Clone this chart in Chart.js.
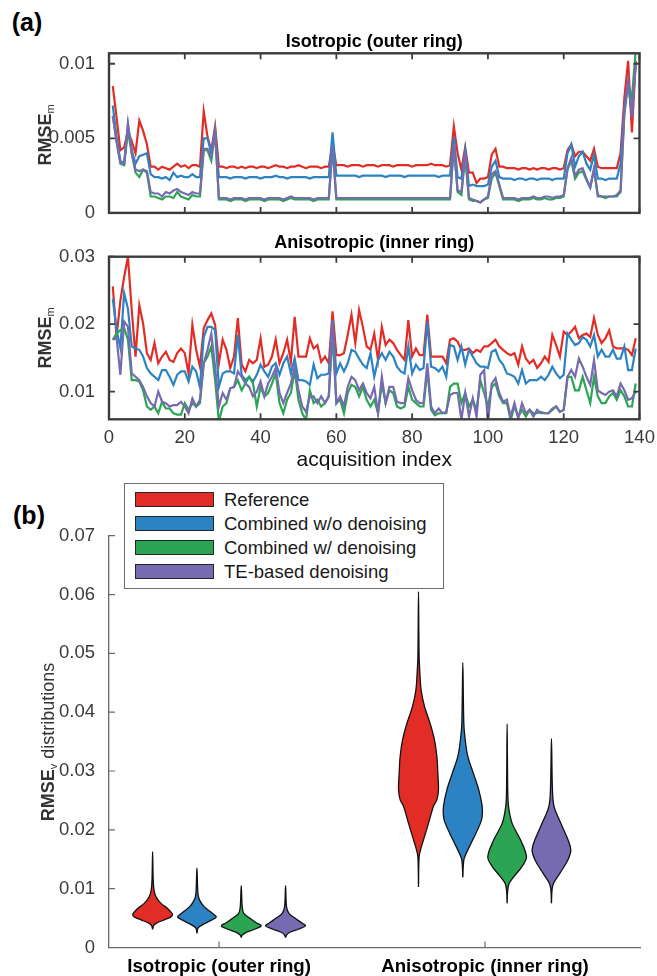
<!DOCTYPE html>
<html>
<head>
<meta charset="utf-8">
<script src="https://cdn.jsdelivr.net/npm/chart.js@4.4.1/dist/chart.umd.min.js"></script>
<style>
  html, body { margin: 0; padding: 0; background: #fff; }
  body { width: 657px; height: 976px; position: relative; overflow: hidden;
         font-family: "Liberation Sans", Arial, Helvetica, sans-serif; }
  canvas { position: absolute; left: 0; }
  .panel { position: absolute; font-weight: bold; font-size: 25px; color: #000;
           transform: translate(-50%, -50%); line-height: 1; }
  .ylab { position: absolute; transform: translate(-50%, -50%) rotate(-90deg);
          white-space: nowrap; font-size: 18px; color: #333; line-height: 1; }
  .ylab sub { font-size: 11px; vertical-align: -3px; }
  #legend { position: absolute; left: 124px; top: 483px; width: 318px; height: 104px;
            border: 1.5px solid #6e6e6e; background: #fff; z-index: 5; }
  .row { position: absolute; left: 10px; height: 16px; }
  .sw { position: absolute; left: 0; top: 0; width: 77px; height: 13px; border: 1.5px solid #262626; }
  .lt { position: absolute; left: 89px; top: -3px; font-size: 18.5px; color: #1a1a1a; white-space: nowrap; line-height: 22px; }
</style>
</head>
<body>
<div class="panel" style="left:27px; top:22px;">(a)</div>
<div class="panel" style="left:29px; top:515px;">(b)</div>
<canvas id="cA" width="657" height="230" style="top:0px;"></canvas>
<canvas id="cB" width="657" height="250" style="top:230px;"></canvas>
<canvas id="cC" width="657" height="506" style="top:470px;"></canvas>
<div class="ylab" style="left:46px; top:135px;"><b>RMSE</b><sub>m</sub></div>
<div class="ylab" style="left:46px; top:338px;"><b>RMSE</b><sub>m</sub></div>
<div class="ylab" style="left:49px; top:742px;"><b>RMSE</b><sub>v</sub> distributions</div>
<div id="legend"></div>
<script>
// ---------------- data ----------------
const methods = ['Reference', 'Combined w/o denoising', 'Combined w/ denoising', 'TE-based denoising'];
const colors = ['#E22D27', '#2C83C4', '#2BA453', '#766AB0'];
const groups = ['Isotropic (outer ring)', 'Anisotropic (inner ring)'];
const acqTicks = [0, 20, 40, 60, 80, 100, 120, 140];
const isoTicks = [0, 0.005, 0.01];
const anisoTicks = [0.01, 0.02, 0.03];
const violinTicks = [0, 0.01, 0.02, 0.03, 0.04, 0.05, 0.06, 0.07];

// Isotropic (outer ring), RMSE_m per acquisition index 1..139
const isoRef = [
 0.0085,0.0064,0.0042,0.0044,0.0055,0.0048,0.0040,0.0062,0.0055,0.0046,
 0.0031,0.0031,0.0029,0.0031,0.0030,0.0029,0.0031,0.0033,0.0031,0.0032,
 0.0030,0.0032,0.0032,0.0031,0.0068,0.0051,0.0042,0.0058,0.0031,0.0031,
 0.0030,0.0031,0.0031,0.0030,0.0031,0.0030,0.0031,0.0031,0.0030,0.0031,
 0.0031,0.0030,0.0031,0.0032,0.0031,0.0031,0.0030,0.0031,0.0031,0.0032,
 0.0031,0.0030,0.0031,0.0031,0.0031,0.0030,0.0031,0.0031,0.0046,0.0032,
 0.0032,0.0032,0.0031,0.0032,0.0032,0.0032,0.0031,0.0032,0.0032,0.0032,
 0.0031,0.0032,0.0032,0.0032,0.0031,0.0032,0.0032,0.0032,0.0032,0.0031,
 0.0032,0.0032,0.0032,0.0032,0.0033,0.0032,0.0032,0.0032,0.0031,0.0032,
 0.0058,0.0040,0.0029,0.0044,0.0027,0.0027,0.0020,0.0023,0.0023,0.0024,
 0.0039,0.0043,0.0031,0.0031,0.0030,0.0030,0.0030,0.0029,0.0030,0.0030,
 0.0029,0.0030,0.0029,0.0030,0.0030,0.0029,0.0030,0.0030,0.0029,0.0030,
 0.0042,0.0046,0.0038,0.0041,0.0041,0.0038,0.0035,0.0043,0.0031,0.0030,
 0.0030,0.0030,0.0030,0.0030,0.0040,0.0077,0.0102,0.0054,0.0102];
const isoNoDen = [
 0.0072,0.0051,0.0035,0.0033,0.0059,0.0042,0.0033,0.0038,0.0039,0.0040,
 0.0026,0.0024,0.0024,0.0023,0.0024,0.0022,0.0027,0.0024,0.0025,0.0024,
 0.0024,0.0026,0.0024,0.0024,0.0050,0.0050,0.0040,0.0055,0.0024,0.0024,
 0.0024,0.0023,0.0024,0.0024,0.0024,0.0023,0.0024,0.0024,0.0024,0.0023,
 0.0024,0.0024,0.0024,0.0025,0.0024,0.0024,0.0023,0.0024,0.0024,0.0024,
 0.0024,0.0024,0.0023,0.0024,0.0024,0.0024,0.0024,0.0024,0.0054,0.0025,
 0.0025,0.0025,0.0025,0.0025,0.0025,0.0024,0.0025,0.0025,0.0025,0.0025,
 0.0025,0.0025,0.0024,0.0025,0.0025,0.0025,0.0025,0.0024,0.0025,0.0025,
 0.0025,0.0025,0.0025,0.0025,0.0025,0.0025,0.0024,0.0025,0.0025,0.0025,
 0.0051,0.0024,0.0023,0.0042,0.0018,0.0019,0.0018,0.0018,0.0018,0.0019,
 0.0031,0.0035,0.0024,0.0023,0.0023,0.0023,0.0022,0.0023,0.0023,0.0022,
 0.0023,0.0023,0.0022,0.0023,0.0023,0.0023,0.0022,0.0023,0.0023,0.0023,
 0.0040,0.0046,0.0031,0.0038,0.0041,0.0033,0.0029,0.0039,0.0023,0.0023,
 0.0022,0.0023,0.0023,0.0023,0.0033,0.0070,0.0088,0.0066,0.0099];
const isoDen = [
 0.0065,0.0048,0.0033,0.0032,0.0055,0.0040,0.0027,0.0024,0.0029,0.0027,
 0.0011,0.0011,0.0010,0.0009,0.0011,0.0011,0.0010,0.0014,0.0011,0.0010,
 0.0009,0.0012,0.0011,0.0011,0.0042,0.0042,0.0035,0.0054,0.0009,0.0009,
 0.0009,0.0008,0.0009,0.0009,0.0009,0.0008,0.0009,0.0009,0.0009,0.0009,
 0.0008,0.0009,0.0009,0.0009,0.0009,0.0008,0.0009,0.0010,0.0009,0.0009,
 0.0009,0.0009,0.0009,0.0008,0.0009,0.0009,0.0009,0.0009,0.0044,0.0009,
 0.0009,0.0009,0.0009,0.0009,0.0009,0.0009,0.0009,0.0009,0.0009,0.0009,
 0.0009,0.0009,0.0009,0.0009,0.0009,0.0009,0.0009,0.0009,0.0009,0.0009,
 0.0009,0.0009,0.0009,0.0009,0.0009,0.0009,0.0009,0.0009,0.0009,0.0009,
 0.0045,0.0014,0.0012,0.0038,0.0009,0.0008,0.0008,0.0007,0.0009,0.0010,
 0.0023,0.0027,0.0018,0.0009,0.0009,0.0009,0.0009,0.0008,0.0009,0.0009,
 0.0009,0.0010,0.0009,0.0009,0.0010,0.0009,0.0009,0.0010,0.0010,0.0011,
 0.0029,0.0035,0.0023,0.0027,0.0028,0.0022,0.0017,0.0029,0.0012,0.0011,
 0.0010,0.0011,0.0011,0.0011,0.0014,0.0066,0.0086,0.0077,0.0109];
const isoTE = [
 0.0065,0.0048,0.0034,0.0033,0.0060,0.0040,0.0029,0.0028,0.0029,0.0028,
 0.0014,0.0013,0.0013,0.0011,0.0014,0.0013,0.0015,0.0016,0.0014,0.0013,
 0.0012,0.0014,0.0013,0.0013,0.0043,0.0043,0.0038,0.0055,0.0010,0.0010,
 0.0010,0.0009,0.0010,0.0010,0.0010,0.0009,0.0010,0.0010,0.0010,0.0010,
 0.0009,0.0010,0.0010,0.0010,0.0010,0.0009,0.0010,0.0011,0.0010,0.0010,
 0.0010,0.0010,0.0010,0.0009,0.0010,0.0010,0.0010,0.0010,0.0045,0.0010,
 0.0010,0.0010,0.0010,0.0010,0.0010,0.0010,0.0010,0.0010,0.0010,0.0010,
 0.0010,0.0010,0.0010,0.0010,0.0010,0.0010,0.0010,0.0010,0.0010,0.0010,
 0.0010,0.0010,0.0010,0.0010,0.0010,0.0010,0.0010,0.0010,0.0010,0.0010,
 0.0046,0.0015,0.0014,0.0040,0.0010,0.0009,0.0008,0.0007,0.0009,0.0011,
 0.0026,0.0028,0.0019,0.0010,0.0010,0.0010,0.0010,0.0009,0.0010,0.0010,
 0.0010,0.0011,0.0010,0.0010,0.0011,0.0011,0.0010,0.0011,0.0011,0.0012,
 0.0030,0.0037,0.0025,0.0029,0.0030,0.0023,0.0017,0.0030,0.0011,0.0011,
 0.0011,0.0011,0.0011,0.0012,0.0015,0.0068,0.0088,0.0064,0.0101];

// Anisotropic (inner ring), RMSE_m per acquisition index 1..139
const anisoRef = [
 0.0256,0.0181,0.0235,0.0270,0.0300,0.0221,0.0152,0.0228,0.0201,0.0157,
 0.0147,0.0172,0.0142,0.0152,0.0159,0.0147,0.0144,0.0157,0.0164,0.0157,
 0.0127,0.0199,0.0162,0.0137,0.0194,0.0206,0.0216,0.0199,0.0142,0.0177,
 0.0162,0.0135,0.0152,0.0209,0.0140,0.0130,0.0147,0.0142,0.0147,0.0179,
 0.0137,0.0140,0.0152,0.0177,0.0142,0.0157,0.0177,0.0144,0.0211,0.0152,
 0.0152,0.0152,0.0179,0.0164,0.0169,0.0144,0.0152,0.0142,0.0219,0.0154,
 0.0154,0.0157,0.0184,0.0214,0.0172,0.0221,0.0196,0.0167,0.0162,0.0186,
 0.0147,0.0196,0.0169,0.0177,0.0172,0.0162,0.0154,0.0147,0.0206,0.0152,
 0.0164,0.0154,0.0154,0.0214,0.0152,0.0152,0.0152,0.0152,0.0142,0.0177,
 0.0179,0.0174,0.0162,0.0162,0.0164,0.0157,0.0162,0.0159,0.0167,0.0167,
 0.0172,0.0177,0.0167,0.0162,0.0157,0.0154,0.0157,0.0140,0.0167,0.0149,
 0.0142,0.0147,0.0135,0.0142,0.0152,0.0144,0.0184,0.0169,0.0152,0.0189,
 0.0184,0.0189,0.0196,0.0179,0.0184,0.0186,0.0181,0.0209,0.0184,0.0172,
 0.0179,0.0191,0.0167,0.0164,0.0164,0.0164,0.0162,0.0154,0.0179];
const anisoNoDen = [
 0.0238,0.0191,0.0165,0.0246,0.0223,0.0167,0.0164,0.0162,0.0152,0.0135,
 0.0127,0.0122,0.0117,0.0132,0.0132,0.0122,0.0110,0.0125,0.0130,0.0130,
 0.0115,0.0137,0.0130,0.0107,0.0181,0.0196,0.0196,0.0191,0.0107,0.0127,
 0.0130,0.0130,0.0127,0.0184,0.0125,0.0117,0.0122,0.0115,0.0125,0.0140,
 0.0130,0.0122,0.0137,0.0142,0.0125,0.0142,0.0152,0.0127,0.0149,0.0117,
 0.0117,0.0115,0.0110,0.0140,0.0120,0.0125,0.0125,0.0127,0.0206,0.0127,
 0.0142,0.0130,0.0142,0.0162,0.0159,0.0149,0.0140,0.0135,0.0157,0.0122,
 0.0147,0.0157,0.0147,0.0159,0.0152,0.0137,0.0130,0.0127,0.0167,0.0127,
 0.0140,0.0132,0.0135,0.0204,0.0137,0.0135,0.0130,0.0137,0.0122,0.0169,
 0.0167,0.0147,0.0167,0.0140,0.0162,0.0152,0.0142,0.0137,0.0137,0.0135,
 0.0159,0.0162,0.0147,0.0140,0.0127,0.0125,0.0122,0.0112,0.0132,0.0112,
 0.0117,0.0117,0.0117,0.0122,0.0117,0.0125,0.0137,0.0127,0.0120,0.0125,
 0.0186,0.0177,0.0169,0.0172,0.0181,0.0177,0.0167,0.0184,0.0152,0.0162,
 0.0152,0.0152,0.0162,0.0149,0.0149,0.0167,0.0132,0.0132,0.0164];
const anisoDen = [
 0.0177,0.0186,0.0191,0.0194,0.0177,0.0117,0.0117,0.0115,0.0102,0.0078,
 0.0073,0.0078,0.0068,0.0085,0.0075,0.0075,0.0068,0.0066,0.0066,0.0083,
 0.0073,0.0083,0.0078,0.0083,0.0142,0.0152,0.0167,0.0117,0.0056,0.0078,
 0.0083,0.0105,0.0107,0.0117,0.0102,0.0112,0.0122,0.0112,0.0078,0.0107,
 0.0093,0.0098,0.0112,0.0127,0.0083,0.0068,0.0088,0.0098,0.0132,0.0088,
 0.0068,0.0058,0.0102,0.0083,0.0088,0.0078,0.0083,0.0093,0.0186,0.0083,
 0.0088,0.0068,0.0098,0.0110,0.0107,0.0093,0.0107,0.0088,0.0078,0.0088,
 0.0068,0.0112,0.0083,0.0102,0.0098,0.0078,0.0075,0.0078,0.0107,0.0088,
 0.0083,0.0078,0.0078,0.0132,0.0073,0.0065,0.0068,0.0068,0.0068,0.0107,
 0.0112,0.0112,0.0083,0.0098,0.0078,0.0088,0.0073,0.0117,0.0098,0.0078,
 0.0107,0.0112,0.0093,0.0083,0.0083,0.0058,0.0078,0.0063,0.0073,0.0063,
 0.0073,0.0068,0.0068,0.0070,0.0068,0.0068,0.0073,0.0078,0.0070,0.0073,
 0.0122,0.0122,0.0102,0.0102,0.0122,0.0102,0.0083,0.0122,0.0093,0.0083,
 0.0083,0.0093,0.0098,0.0088,0.0102,0.0093,0.0078,0.0078,0.0112];
const anisoTE = [
 0.0177,0.0180,0.0125,0.0204,0.0196,0.0127,0.0122,0.0117,0.0107,0.0093,
 0.0083,0.0078,0.0100,0.0085,0.0083,0.0078,0.0080,0.0080,0.0085,0.0078,
 0.0068,0.0090,0.0078,0.0088,0.0142,0.0162,0.0186,0.0137,0.0078,0.0098,
 0.0088,0.0105,0.0107,0.0130,0.0122,0.0112,0.0107,0.0093,0.0100,0.0115,
 0.0093,0.0112,0.0122,0.0135,0.0098,0.0083,0.0098,0.0112,0.0137,0.0102,
 0.0078,0.0070,0.0093,0.0093,0.0083,0.0093,0.0083,0.0093,0.0204,0.0083,
 0.0093,0.0078,0.0107,0.0122,0.0117,0.0102,0.0112,0.0098,0.0090,0.0107,
 0.0068,0.0122,0.0083,0.0107,0.0107,0.0085,0.0083,0.0083,0.0120,0.0102,
 0.0088,0.0083,0.0083,0.0142,0.0078,0.0068,0.0075,0.0068,0.0070,0.0095,
 0.0098,0.0098,0.0058,0.0098,0.0063,0.0090,0.0063,0.0125,0.0132,0.0053,
 0.0112,0.0120,0.0098,0.0085,0.0088,0.0063,0.0083,0.0060,0.0083,0.0068,
 0.0073,0.0063,0.0073,0.0068,0.0068,0.0068,0.0075,0.0078,0.0070,0.0073,
 0.0122,0.0132,0.0122,0.0149,0.0137,0.0122,0.0110,0.0147,0.0102,0.0098,
 0.0095,0.0100,0.0102,0.0093,0.0112,0.0102,0.0088,0.0090,0.0100];

// Violin profiles: [RMSE_v value, relative density (0..1)], from min to max
const vIsoRef   = [[0.0031,0],[0.0037,0.05],[0.0041,0.17],[0.0047,0.58],[0.0052,0.92],[0.0056,1.0],[0.0061,0.9],[0.0067,0.72],[0.0075,0.42],[0.0086,0.17],[0.0098,0.07],[0.0115,0.03],[0.0163,0]];
const vIsoNoDen = [[0.0024,0],[0.0033,0.05],[0.0038,0.25],[0.0047,0.75],[0.0052,0.97],[0.0056,0.85],[0.0061,0.67],[0.0069,0.37],[0.0081,0.13],[0.0092,0.05],[0.0135,0]];
const vIsoDen   = [[0.0017,0],[0.0021,0.05],[0.0025,0.2],[0.0031,0.67],[0.0037,1.0],[0.0042,0.75],[0.0050,0.42],[0.0058,0.13],[0.0069,0.05],[0.0105,0]];
const vIsoTE    = [[0.0017,0],[0.0021,0.05],[0.0025,0.17],[0.0031,0.63],[0.0037,1.0],[0.0042,0.8],[0.0050,0.47],[0.0058,0.17],[0.0069,0.05],[0.0105,0]];
const vAnRef    = [[0.0103,0],[0.0154,0.03],[0.0166,0.1],[0.0183,0.25],[0.0211,0.5],[0.0240,0.75],[0.0251,0.92],[0.0268,1.0],[0.0296,0.97],[0.0325,0.92],[0.0353,0.8],[0.0381,0.58],[0.0410,0.3],[0.0438,0.13],[0.0466,0.07],[0.0495,0.03],[0.0605,0]];
const vAnNoDen  = [[0.0119,0],[0.0149,0.05],[0.0160,0.17],[0.0183,0.5],[0.0211,0.88],[0.0223,0.97],[0.0240,0.97],[0.0268,0.8],[0.0296,0.53],[0.0325,0.25],[0.0353,0.12],[0.0381,0.05],[0.0484,0]];
const vAnDen    = [[0.0075,0],[0.0098,0.03],[0.0109,0.1],[0.0120,0.33],[0.0138,0.75],[0.0154,0.97],[0.0183,0.67],[0.0211,0.25],[0.0240,0.07],[0.0268,0.03],[0.0380,0]];
const vAnTE     = [[0.0075,0],[0.0098,0.03],[0.0109,0.1],[0.0126,0.42],[0.0149,0.83],[0.0166,0.97],[0.0183,0.83],[0.0211,0.47],[0.0240,0.13],[0.0268,0.05],[0.0355,0]];

// ---------------- rendering ----------------
Chart.defaults.font.family = '"Liberation Sans", Arial, Helvetica, sans-serif';
Chart.defaults.animation = false;
Chart.defaults.devicePixelRatio = 1;

const acqIndex = isoRef.map((_, i) => i + 1);
const fixTicks = arr => (s => { s.ticks = arr.map(v => ({ value: v })); });

// draws inward tick marks (and optional box) from the library's scales
const frame = {
  id: 'frame',
  afterDatasetsDraw(chart, args, o) {
    if (!o || !o.enabled) return;
    const { ctx, chartArea: a, scales } = chart;
    const L = o.tickLen;
    ctx.save();
    ctx.strokeStyle = o.color;
    ctx.lineWidth = o.tickWidth;
    ctx.beginPath();
    scales.x.ticks.forEach(t => {
      const px = scales.x.getPixelForValue(t.value);
      if (o.bottom) { ctx.moveTo(px, a.bottom); ctx.lineTo(px, a.bottom - L); }
      if (o.top) { ctx.moveTo(px, a.top); ctx.lineTo(px, a.top + L); }
    });
    scales.y.ticks.forEach(t => {
      const py = scales.y.getPixelForValue(t.value);
      if (o.left) { ctx.moveTo(a.left, py); ctx.lineTo(a.left + L, py); }
      if (o.right) { ctx.moveTo(a.right, py); ctx.lineTo(a.right - L, py); }
    });
    ctx.stroke();
    if (o.box) {
      ctx.lineWidth = o.boxWidth;
      ctx.strokeRect(a.left, a.top, a.right - a.left, a.bottom - a.top);
    }
    ctx.restore();
  }
};
Chart.register(frame);

function lineDatasets(series) {
  return series.map((d, i) => ({
    label: methods[i], data: d, borderColor: colors[i], backgroundColor: colors[i],
    borderWidth: 2.2, pointRadius: 0, tension: 0, clip: 0, order: 4 - i
  }));
}

const tickFont = { size: 18.5 };
const tickColor = '#3a3a3a';

function lineChart(id, series, title, yMin, yMax, yTicks, showX, opts) {
  return new Chart(document.getElementById(id), {
    type: 'line',
    data: { labels: acqIndex, datasets: lineDatasets(series) },
    options: {
      responsive: false,
      layout: { autoPadding: false, padding: { left: 0, right: 17.5, top: 0, bottom: 0 } },
      plugins: {
        legend: { display: false }, tooltip: { enabled: false },
        frame: { enabled: true, tickLen: 6, tickWidth: 1.8, color: '#3c3c3c', box: true, boxWidth: 2.4,
                 left: true, right: true, top: true, bottom: true }
      },
      scales: {
        x: {
          type: 'linear', min: 0, max: 140,
          afterBuildTicks: fixTicks(acqTicks),
          afterFit: s => { s.height = opts.xHeight; },
          grid: { display: false }, border: { display: false },
          ticks: { display: showX, font: tickFont, color: tickColor, padding: 0, maxRotation: 0,
                   callback: v => String(v) },
          title: { display: showX, text: 'acquisition index', color: '#111', font: { size: 21 },
                   padding: { top: 0, bottom: 7 } }
        },
        xTop: {
          type: 'linear', position: 'top', min: 0, max: 140,
          afterFit: s => { s.height = opts.topHeight; },
          grid: { display: false }, border: { display: false },
          ticks: { display: false },
          title: { display: true, text: title, color: '#000', font: { size: 18, weight: 'bold' },
                   padding: { top: opts.titleTop, bottom: 0 } }
        },
        y: {
          min: yMin, max: yMax,
          afterBuildTicks: fixTicks(yTicks),
          afterFit: s => { s.width = 109; },
          grid: { display: false }, border: { display: false },
          ticks: { font: tickFont, color: tickColor, padding: 6, callback: v => String(v) }
        }
      }
    }
  });
}

lineChart('cA', [isoRef, isoNoDen, isoDen, isoTE], 'Isotropic (outer ring)', 0, 0.0107, isoTicks, false,
  { topHeight: 53.3, titleTop: 31.7, xHeight: 12.7 });
lineChart('cB', [anisoRef, anisoNoDen, anisoDen, anisoTE], 'Anisotropic (inner ring)', 0.0059, 0.03, anisoTicks, true,
  { topHeight: 26.7, titleTop: 2.2, xHeight: 60.7 });

// violin chart
const violinProfiles = [[vIsoRef, vIsoNoDen, vIsoDen, vIsoTE], [vAnRef, vAnNoDen, vAnDen, vAnTE]];
const offsets = [-0.25, -1 / 12, 1 / 12, 0.25];
const halfWidth = 0.075;
const violinSets = [];
violinProfiles.forEach((grp, g) => {
  grp.forEach((prof, m) => {
    const c = g + 1 + offsets[m];
    const right = prof.map(([v, d]) => ({ x: c + d * halfWidth, y: v }));
    const left = prof.slice(0, -1).reverse().map(([v, d]) => ({ x: c - d * halfWidth, y: v }));
    violinSets.push({
      label: methods[m] + ' - ' + groups[g],
      data: right.concat(left), showLine: true, fill: 'shape',
      backgroundColor: colors[m], borderColor: '#111', borderWidth: 1.3,
      pointRadius: 0, tension: 0.35
    });
  });
});

new Chart(document.getElementById('cC'), {
  type: 'scatter',
  data: { datasets: violinSets },
  options: {
    responsive: false,
    layout: { autoPadding: false, padding: { left: 0, right: 17, top: 65.7, bottom: 0 } },
    plugins: {
      legend: { display: false }, tooltip: { enabled: false },
      frame: { enabled: true, tickLen: 6, tickWidth: 1.2, color: '#6a6a6a', box: false,
               left: true, bottom: true }
    },
    scales: {
      x: {
        type: 'linear', min: 0.586, max: 2.583,
        afterBuildTicks: fixTicks([1, 2]),
        afterFit: s => { s.height = 28.5; },
        grid: { display: false },
        border: { display: true, color: '#6a6a6a', width: 1.3 },
        ticks: { font: { size: 18.7, weight: 'bold' }, color: '#000', padding: 0, maxRotation: 0,
                 callback: v => groups[Math.round(v) - 1] }
      },
      y: {
        min: 0, max: 0.07,
        afterBuildTicks: fixTicks(violinTicks),
        afterFit: s => { s.width = 109; },
        grid: { display: false },
        border: { display: true, color: '#6a6a6a', width: 1.3 },
        ticks: { font: tickFont, color: tickColor, padding: 6, callback: v => String(v) }
      }
    }
  }
});

// legend (HTML)
const lg = document.getElementById('legend');
methods.forEach((m, i) => {
  const r = document.createElement('div');
  r.className = 'row';
  r.style.top = (8 + i * 24) + 'px';
  r.innerHTML = '<div class="sw" style="background:' + colors[i] + '"></div><div class="lt">' + m + '</div>';
  lg.appendChild(r);
});
</script>
</body>
</html>
